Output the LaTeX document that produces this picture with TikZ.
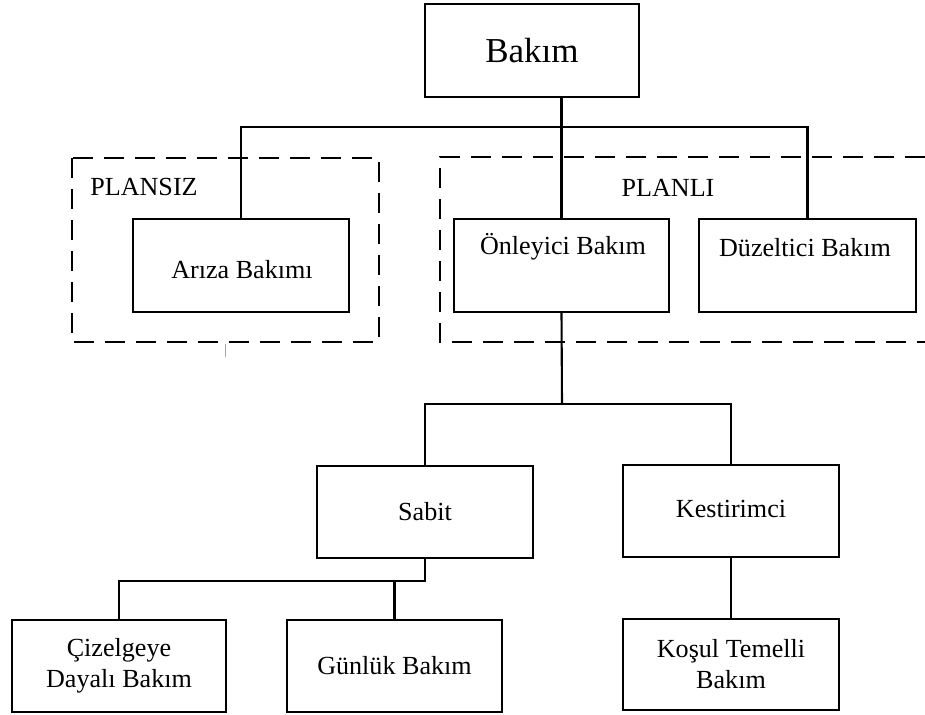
\documentclass[tikz,border=0pt]{standalone}
\usepackage{fontspec}
\setmainfont{Liberation Serif}
\begin{document}
\begin{tikzpicture}[x=1pt,y=-1pt,
  box/.style={draw=black, line width=2.3pt, rectangle, minimum width=215pt, minimum height=93pt, inner sep=0pt, align=center, font=\fontsize{26.1}{31}\selectfont},
  txt/.style={inner sep=0pt, font=\fontsize{26.1}{31}\selectfont},
  conn/.style={draw=black, line width=2.1pt},
  grp/.style={draw=black, line width=2.6pt, dash pattern=on 20pt off 11pt}]
\useasboundingbox (0,0) rectangle (925,714);
% group frames
\draw[grp] (72,158) rectangle (379,342);
\draw[grp] (925,157) -- (440,157) -- (440,342) -- (925,342);
\draw[gray!70, line width=1pt] (225,344) -- (225,357);
\node[txt] (plansiz) at (144,187) {PLANSIZ};
\node[txt] (planli) at (668,188) {PLANLI};
% boxes
\node[box, minimum width=214pt, font=\fontsize{35}{40}\selectfont] (bakim) at (532,50.5) {Bakım};
\node[box, minimum width=216pt] (ariza) at (241,265.5) {};
\node[txt] (arizat) at (242,270) {Arıza Bakımı};
\node[box] (onl) at (561.5,265.5) {};
\node[txt] (onlt) at (563,247) {Önleyici Bakım};
\node[box, minimum width=217pt] (duz) at (807.5,265.5) {};
\node[txt] (duzt) at (805,248) {Düzeltici Bakım};
\node[box, minimum width=216pt, minimum height=92pt] (sab) at (425,512) {Sabit};
\node[box, minimum width=216pt, minimum height=92pt] (kes) at (731,511) {};
\node[txt] (kest) at (731,509) {Kestirimci};
\node[box, minimum width=214pt, minimum height=92pt] (ciz) at (119,666) {Çizelgeye\\Dayalı Bakım};
\node[box, minimum width=215pt, minimum height=92pt] (gun) at (394.5,666) {Günlük Bakım};
\node[box, minimum width=216pt, minimum height=91pt] (kos) at (731,664.5) {Koşul Temelli\\Bakım};
% connectors
\coordinate (b1) at (562,127);
\coordinate (b2) at (562,404);
\coordinate (b3) at (425,581);
\draw[conn] (bakim.south -| onl.north) -- (onl.north);
\draw[conn] (ariza.north) |- (b1) -| (duz.north);
\draw[conn] (onl.south) -- (b2);
\draw[conn] (sab.north) |- (b2) -| (kes.north);
\draw[conn] (sab.south) -- (b3) -| (ciz.north);
\draw[conn] (gun.north) -- (gun.north |- b3);
\draw[conn] (kes.south) -- (kos.north);
\end{tikzpicture}
\end{document}
